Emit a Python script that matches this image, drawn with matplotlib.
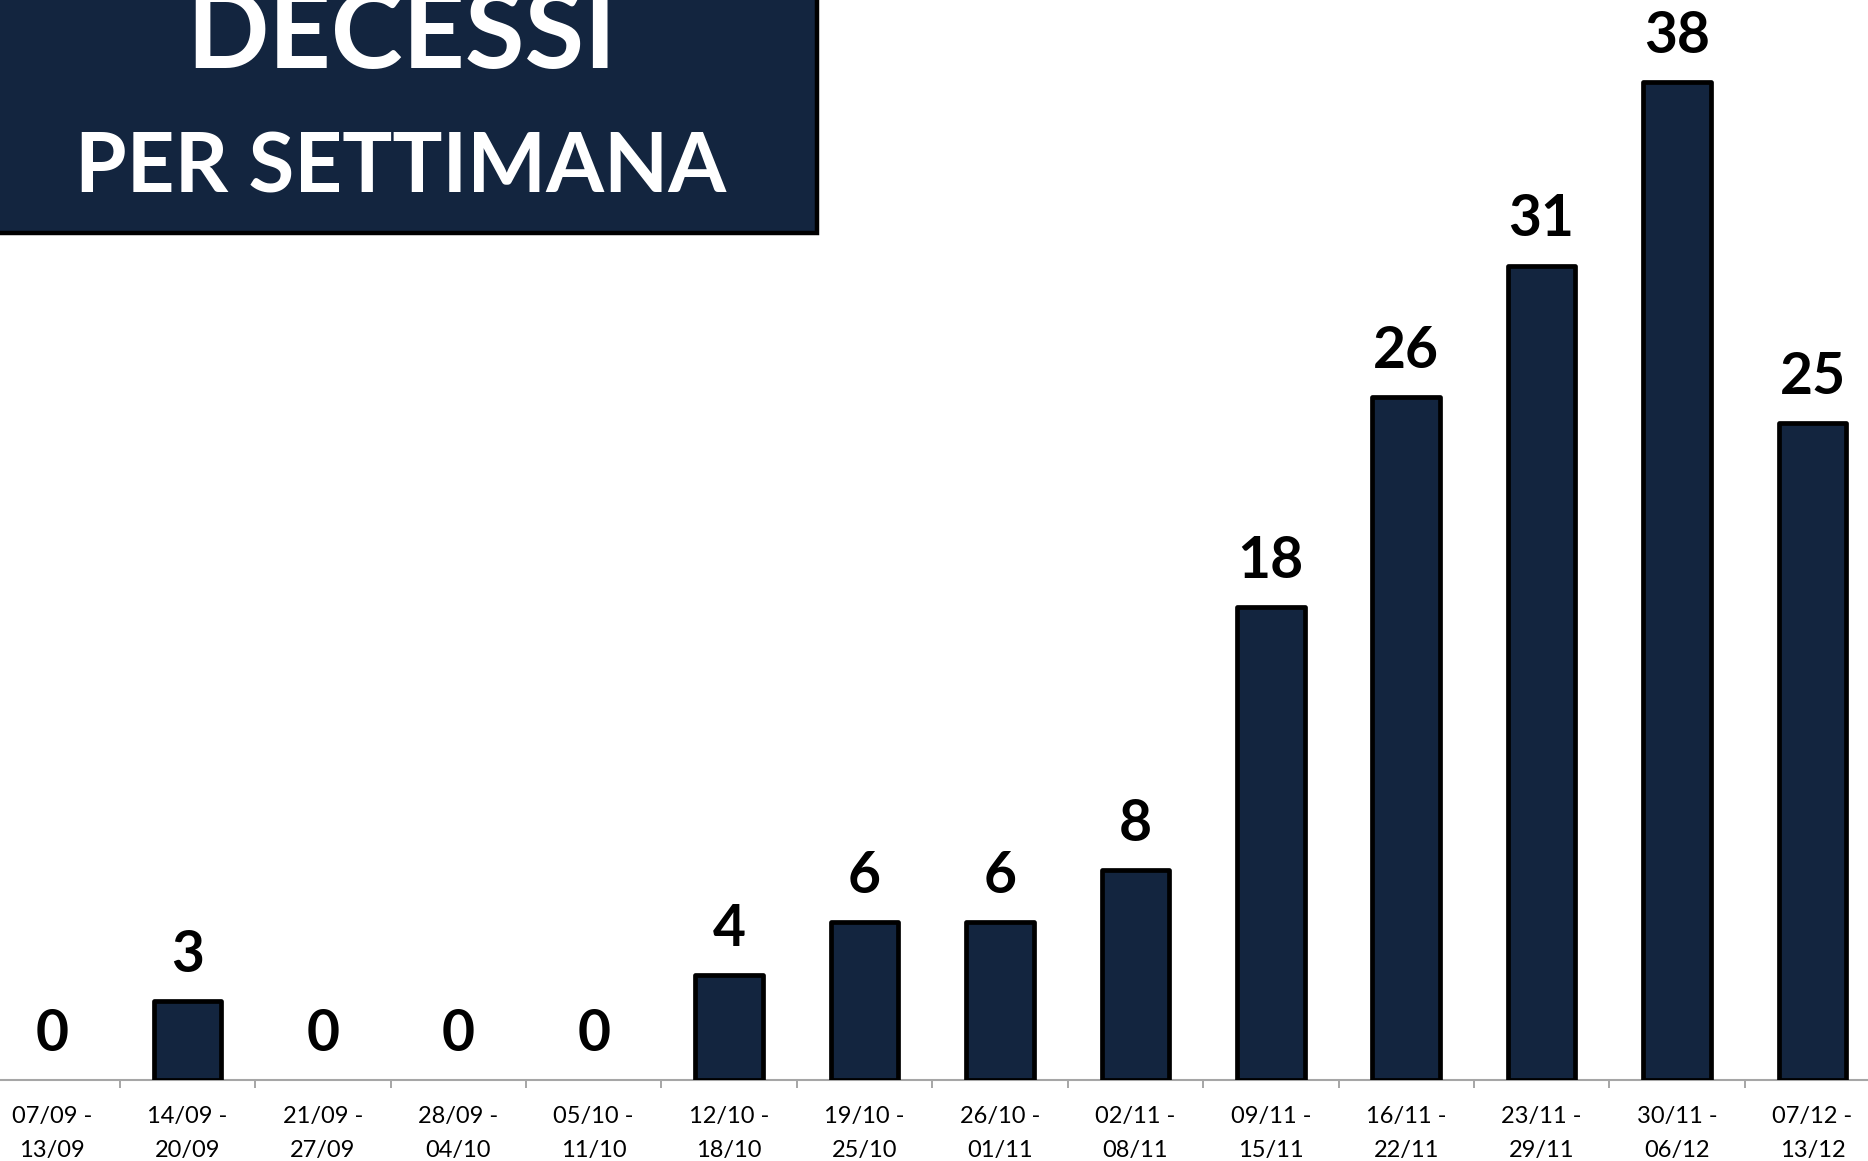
import matplotlib
matplotlib.use('Agg')
import matplotlib.pyplot as plt
from matplotlib.patches import Rectangle

# weekly deaths
weeks = ["07/09 -\n13/09", "14/09 -\n20/09", "21/09 -\n27/09", "28/09 -\n04/10",
         "05/10 -\n11/10", "12/10 -\n18/10", "19/10 -\n25/10", "26/10 -\n01/11",
         "02/11 -\n08/11", "09/11 -\n15/11", "16/11 -\n22/11", "23/11 -\n29/11",
         "30/11 -\n06/12", "07/12 -\n13/12"]
deaths = [0, 3, 0, 0, 0, 4, 6, 6, 8, 18, 26, 31, 38, 25]

title_top = "DECESSI"
title_bottom = "PER SETTIMANA"

navy = "#13253f"
fnt = "Lato"

fig = plt.figure(figsize=(18.68, 11.61), dpi=100)
ax = fig.add_axes([0, 0.0698, 1, 0.9302])

x = list(range(len(deaths)))
lws = [3.4 if v > 0 else 0 for v in deaths]
bars = ax.bar(x, deaths, width=0.5, color=navy, edgecolor="black",
              linewidth=lws, zorder=3, joinstyle="round")

for xi, v in zip(x, deaths):
    ax.annotate(str(v), (xi, v), xytext=(0, 21), textcoords="offset points",
                ha="center", va="baseline", fontsize=41, fontweight="bold",
                family=fnt, color="black")

ax.set_xlim(-0.384, 13.41)
ax.set_ylim(0, 41.11)

for s in ["top", "right", "left"]:
    ax.spines[s].set_visible(False)
ax.spines["bottom"].set_color("#a6a6a6")
ax.spines["bottom"].set_linewidth(1.5)
ax.set_yticks([])

ax.set_xticks(x)
ax.set_xticklabels(weeks, fontsize=17, family=fnt, linespacing=1.72)
ax.tick_params(axis="x", which="major", length=0, pad=19)
ax.set_xticks([i + 0.5 for i in x[:-1]], minor=True)
ax.tick_params(axis="x", which="minor", length=5.8, width=1.4, color="#a6a6a6")

# title box in the top left corner
box = Rectangle((-0.01, 0.7989), 0.4474, 0.25, transform=fig.transFigure,
                facecolor=navy, edgecolor="black", linewidth=3.2, zorder=10)
fig.add_artist(box)
fig.text(0.2147, 0.9414, title_top, ha="center", va="baseline", color="white",
         fontsize=78, fontweight="bold", family=fnt, zorder=11)
fig.text(0.2147, 0.8346, title_bottom, ha="center", va="baseline", color="white",
         fontsize=60, fontweight="bold", family=fnt, zorder=11)

fig.savefig("out.png", dpi=100)
